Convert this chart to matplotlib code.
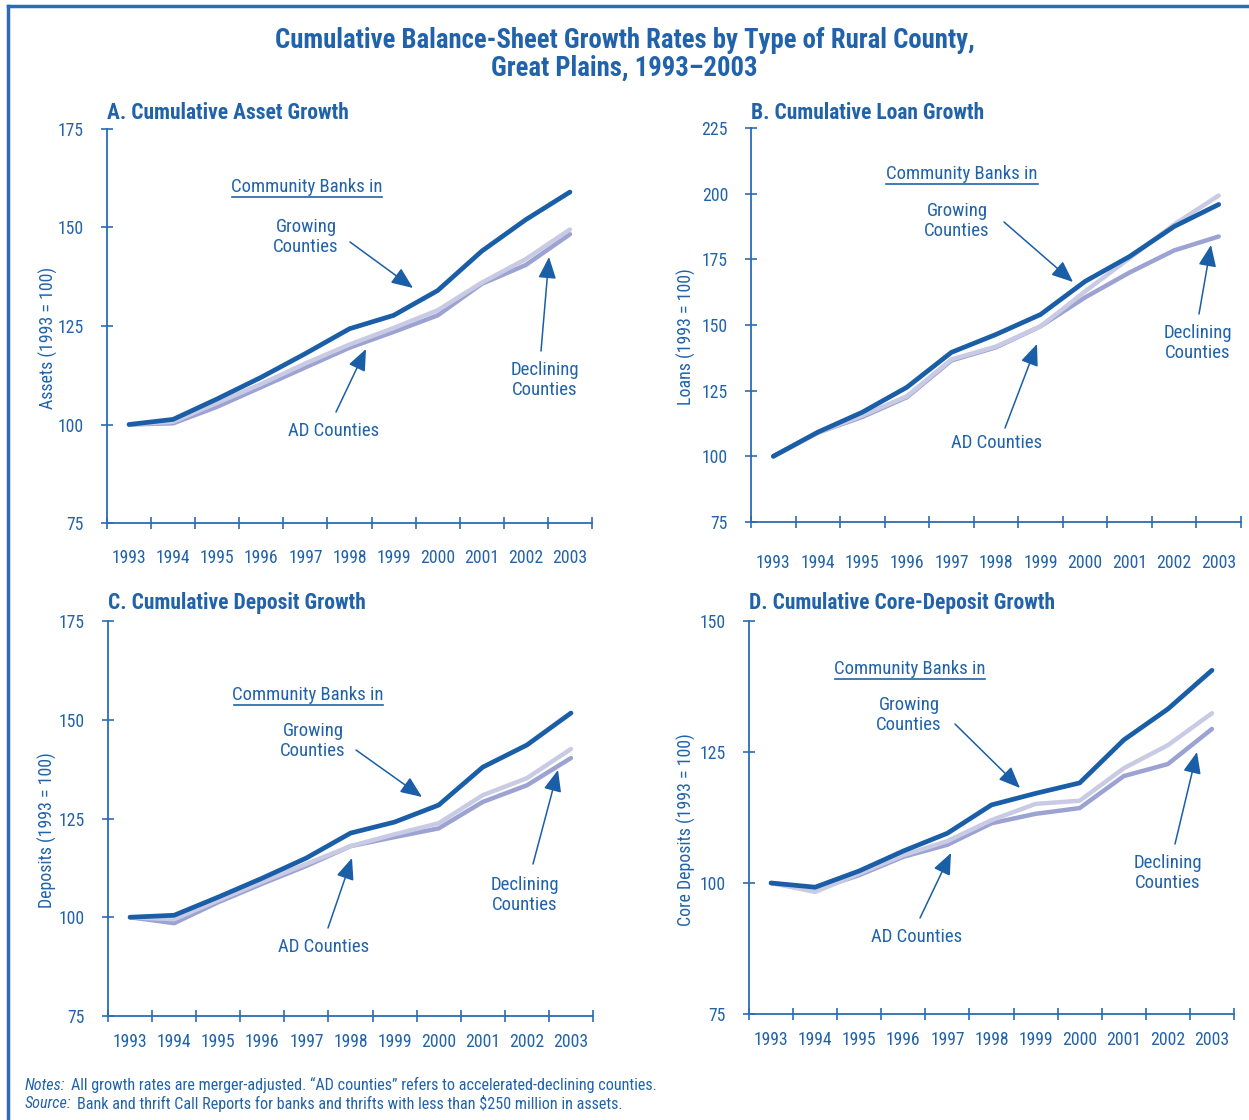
import matplotlib
matplotlib.use("Agg")
import matplotlib.pyplot as plt
from matplotlib.lines import Line2D

plt.rcParams['font.family'] = ['Roboto Condensed', 'Roboto', 'DejaVu Sans']

# ---------------- data ----------------
years = ['1993', '1994', '1995', '1996', '1997', '1998', '1999', '2000', '2001', '2002', '2003']

asset_growing   = [100, 101.3, 106.5, 112.0, 118.0, 124.3, 127.7, 134.0, 144.0, 152.0, 159.0]
asset_declining = [100, 100.7, 105.5, 110.3, 115.5, 120.3, 124.5, 129.0, 136.0, 142.0, 149.5]
asset_ad        = [100, 100.3, 104.5, 109.5, 114.5, 119.5, 123.5, 127.7, 135.7, 140.5, 148.3]

loan_growing    = [100, 109.2, 116.8, 126.3, 139.6, 146.4, 154.0, 166.6, 176.1, 187.5, 195.9]
loan_declining  = [100, 109.0, 115.5, 122.9, 136.9, 141.8, 149.5, 162.8, 175.5, 188.3, 199.3]
loan_ad         = [100, 109.0, 115.0, 122.5, 136.5, 141.5, 149.5, 160.5, 170.0, 178.4, 183.7]

dep_growing     = [100, 100.5, 105.1, 109.9, 115.0, 121.3, 124.1, 128.4, 138.0, 143.6, 151.7]
dep_declining   = [100, 99.5, 104.3, 109.0, 113.5, 118.0, 121.0, 123.8, 130.9, 135.2, 142.6]
dep_ad          = [100, 98.5, 103.8, 108.5, 113.0, 118.0, 120.3, 122.5, 129.2, 133.4, 140.3]

core_growing    = [100, 99.2, 102.3, 106.1, 109.5, 114.9, 117.1, 119.1, 127.3, 133.2, 140.6]
core_declining  = [100, 98.3, 101.8, 105.3, 108.0, 112.0, 115.1, 115.7, 121.9, 126.3, 132.4]
core_ad         = [100, 98.7, 101.5, 105.0, 107.3, 111.4, 113.2, 114.3, 120.4, 122.7, 129.4]

# ---------------- style ----------------
W, H = 1249, 1120
TXT = '#2163ab'
DARK = '#1a5ea7'
LIGHT = '#c9cbe5'
MED = '#9ca2d1'
AXC = '#2b6cb3'

fig = plt.figure(figsize=(W / 100, H / 100), dpi=100)
fig.patch.set_facecolor('white')


def fx(px):
    return px / W


def fy(py):
    return 1 - py / H


panels = [
    dict(box=(107, 129, 592, 523), ylim=(75, 175), yt=[75, 100, 125, 150, 175],
         title='A. Cumulative Asset Growth', ty=113, ylabel='Assets (1993 = 100)',
         data=(asset_ad, asset_declining, asset_growing), xpad=19,
         cb=(307, 187, 232, 382, 197), grow=(306, 237), garr=((350, 242), (413, 288)),
         ad=(334, 431), adarr=((336, 412), (366, 349)),
         dec=(545, 380), decarr=((541, 351), (549, 257)), ylx=48),
    dict(box=(751, 128, 1241, 522), ylim=(75, 225), yt=[75, 100, 125, 150, 175, 200, 225],
         title='B. Cumulative Loan Growth', ty=113, ylabel='Loans (1993 = 100)',
         data=(loan_ad, loan_declining, loan_growing), xpad=23,
         cb=(962, 174, 886, 1038, 184), grow=(957, 221), garr=((1004, 222), (1073, 282)),
         ad=(997, 443), adarr=((1005, 428), (1037, 344)),
         dec=(1198, 343), decarr=((1199, 314), (1211, 245)), ylx=686),
    dict(box=(108, 621, 593, 1016), ylim=(75, 175), yt=[75, 100, 125, 150, 175],
         title='C. Cumulative Deposit Growth', ty=603, ylabel='Deposits (1993 = 100)',
         data=(dep_ad, dep_declining, dep_growing), xpad=12,
         cb=(308, 695, 234, 383, 705), grow=(313, 741), garr=((356, 750), (422, 797)),
         ad=(324, 947), adarr=((328, 928), (352, 858)),
         dec=(525, 895), decarr=((533, 864), (558, 770)), ylx=47),
    dict(box=(749, 621, 1234, 1014), ylim=(75, 150), yt=[75, 100, 125, 150],
         title='D. Cumulative Core-Deposit Growth', ty=603, ylabel='Core Deposits (1993 = 100)',
         data=(core_ad, core_declining, core_growing), xpad=12,
         cb=(910, 669, 835, 985, 679), grow=(909, 715), garr=((955, 724), (1020, 788)),
         ad=(917, 937), adarr=((920, 918), (951, 853)),
         dec=(1168, 873), decarr=((1175, 844), (1197, 752)), ylx=686),
]

x = list(range(len(years)))
ANN = 13.5
TICK = 12.7

for p in panels:
    x0, y0, x1, y1 = p['box']
    ax = fig.add_axes([fx(x0), fy(y1), (x1 - x0) / W, (y1 - y0) / H])
    ad, dec, grow = p['data']
    ax.plot(x, ad, color=MED, lw=3.2, solid_capstyle='round', solid_joinstyle='round', zorder=3)
    ax.plot(x, dec, color=LIGHT, lw=3.2, solid_capstyle='round', solid_joinstyle='round', zorder=4)
    ax.plot(x, grow, color=DARK, lw=3.4, solid_capstyle='round', solid_joinstyle='round', zorder=5)
    ax.set_xlim(-0.5, len(years) - 0.5)
    ax.set_ylim(*p['ylim'])
    ax.set_yticks(p['yt'])
    ax.set_xticks([i - 0.5 for i in range(len(years) + 1)])
    ax.set_xticklabels([])
    ax.set_xticks(x, minor=True)
    ax.set_xticklabels(years, minor=True)
    for s in ['top', 'right']:
        ax.spines[s].set_visible(False)
    for s in ['left', 'bottom']:
        ax.spines[s].set_color(AXC)
        ax.spines[s].set_linewidth(1.3)
    ax.tick_params(axis='both', which='major', direction='inout', length=9, width=1.2,
                   color=AXC, labelcolor=TXT, labelsize=TICK)
    ax.tick_params(axis='x', which='minor', length=0, pad=p['xpad'], labelcolor=TXT, labelsize=TICK)
    ax.tick_params(axis='y', pad=12)
    ax.patch.set_alpha(0)

    fig.text(fx(x0), fy(p['ty']), p['title'], color=TXT, fontsize=15.5, fontweight='bold',
             ha='left', va='center')
    fig.text(fx(p['ylx']), fy((y0 + y1) / 2 + 12), p['ylabel'], rotation=90, color=TXT,
             fontsize=12.9, ha='center', va='center')

    cx, cy, ux0, ux1, uy = p['cb']
    fig.text(fx(cx), fy(cy), 'Community Banks in', color=TXT, fontsize=ANN,
             ha='center', va='center')
    fig.add_artist(Line2D([fx(ux0), fx(ux1)], [fy(uy), fy(uy)], color=TXT, lw=1.2,
                          transform=fig.transFigure))
    fig.text(fx(p['grow'][0]), fy(p['grow'][1]), 'Growing\nCounties', color=TXT,
             fontsize=ANN, ha='center', va='center', linespacing=1.1)
    fig.text(fx(p['ad'][0]), fy(p['ad'][1]), 'AD Counties', color=TXT,
             fontsize=ANN, ha='center', va='center')
    fig.text(fx(p['dec'][0]), fy(p['dec'][1]), 'Declining\nCounties', color=TXT,
             fontsize=ANN, ha='center', va='center', linespacing=1.1)
    for (s, e) in [p['garr'], p['adarr'], p['decarr']]:
        ax.annotate('', xy=(fx(e[0]), fy(e[1])), xytext=(fx(s[0]), fy(s[1])),
                    xycoords='figure fraction', textcoords='figure fraction',
                    arrowprops=dict(arrowstyle='-|>,head_length=0.6,head_width=0.25',
                                    color=DARK, lw=1.1, mutation_scale=22,
                                    shrinkA=0, shrinkB=0), zorder=6)

fig.text(0.5, fy(40), 'Cumulative Balance-Sheet Growth Rates by Type of Rural County,',
         color=TXT, fontsize=19.3, fontweight='bold', ha='center', va='center')
fig.text(0.5, fy(68), 'Great Plains, 1993\u20132003',
         color=TXT, fontsize=19.3, fontweight='bold', ha='center', va='center')

NOTE = 11.6
n1 = fig.text(fx(25), fy(1085), 'Notes:', color=TXT, fontsize=NOTE, style='italic', ha='left', va='center')
fig.add_artist(matplotlib.text.Annotation(
    'All growth rates are merger-adjusted. \u201cAD counties\u201d refers to accelerated-declining counties.',
    xy=(1, 0.5), xycoords=n1, xytext=(4, 0), textcoords='offset points',
    color=TXT, fontsize=NOTE, ha='left', va='center'))
n2 = fig.text(fx(25), fy(1104), 'Source:', color=TXT, fontsize=NOTE, style='italic', ha='left', va='center')
fig.add_artist(matplotlib.text.Annotation(
    'Bank and thrift Call Reports for banks and thrifts with less than $250 million in assets.',
    xy=(1, 0.5), xycoords=n2, xytext=(4, 0), textcoords='offset points',
    color=TXT, fontsize=NOTE, ha='left', va='center'))

# frame (top and left edges)
fig.add_artist(Line2D([fx(8), 1.0], [fy(6), fy(6)], color=AXC, lw=2.5, transform=fig.transFigure))
fig.add_artist(Line2D([fx(8), fx(8)], [fy(6), 0.0], color=AXC, lw=2.5, transform=fig.transFigure))

fig.savefig('out.png', dpi=100)
